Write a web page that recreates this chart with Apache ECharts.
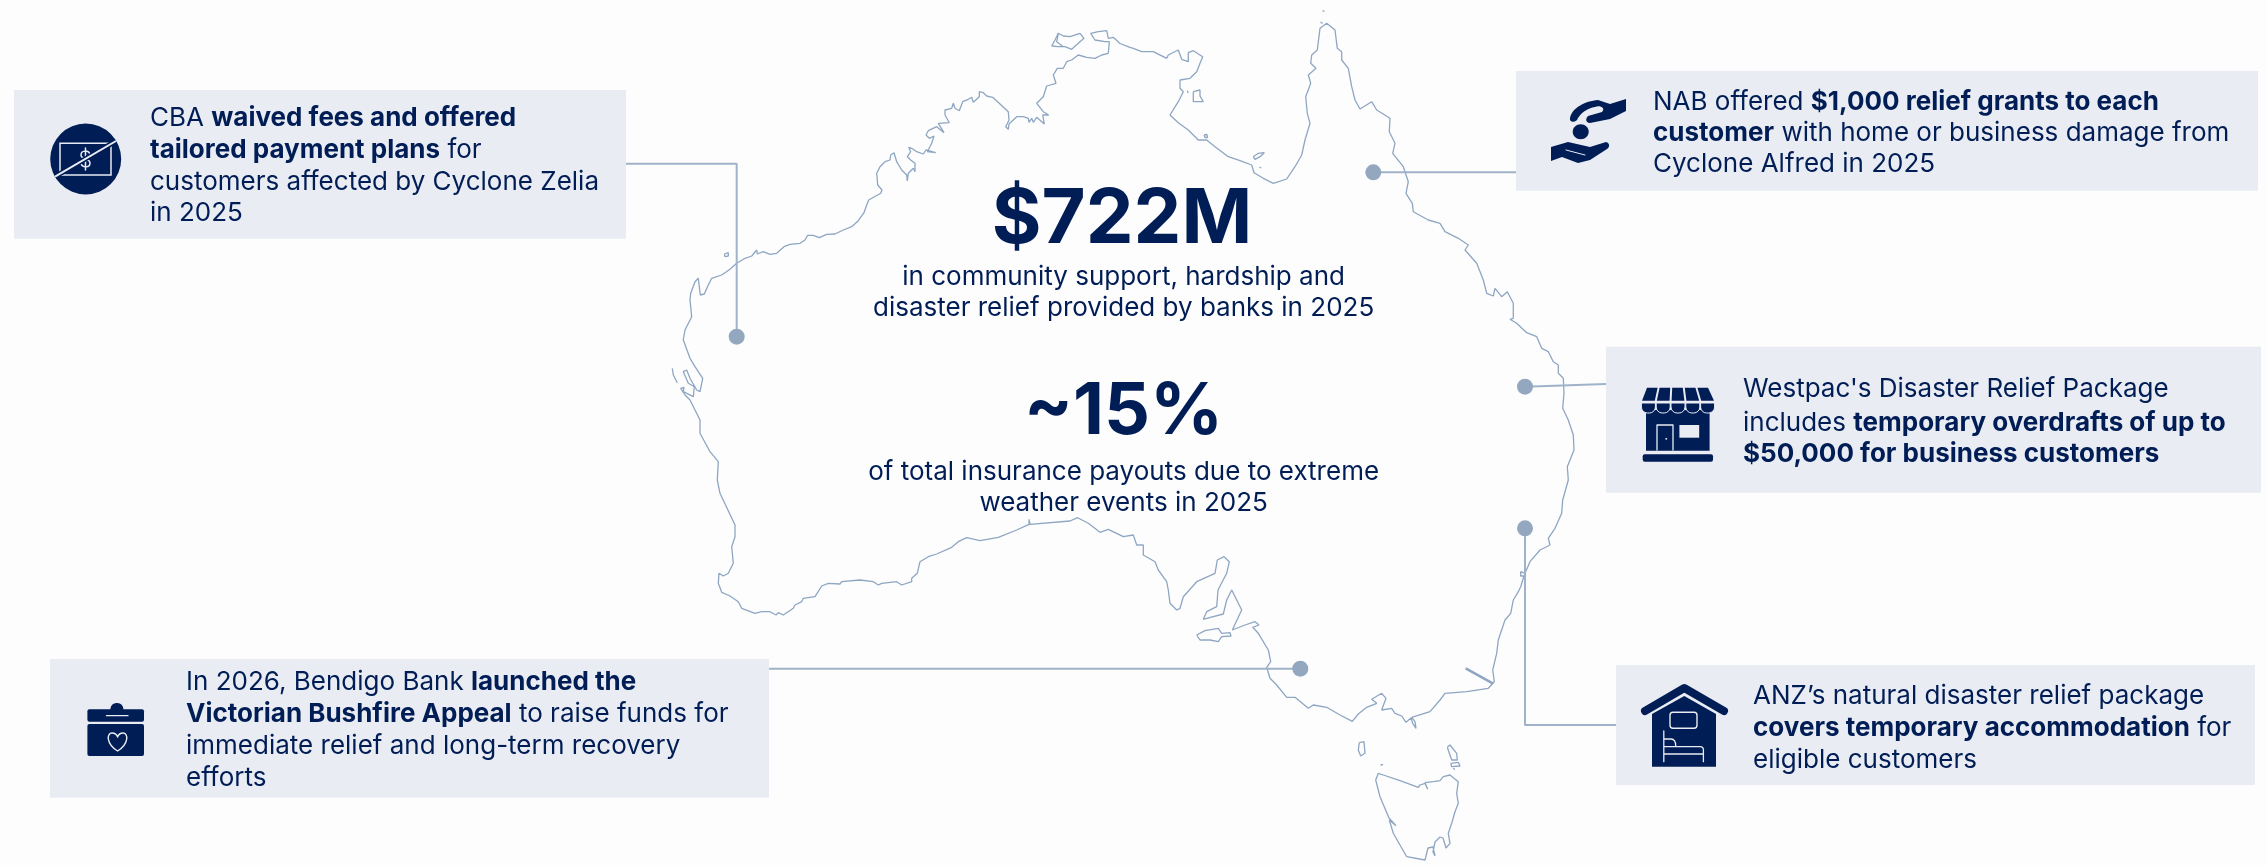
<!DOCTYPE html>
<html>
<head>
<meta charset="utf-8">
<style>
html, body { margin: 0; padding: 0; background: #fdfdfe; }
#main { width: 2267px; height: 865px; }
</style>
<script src="https://cdn.jsdelivr.net/npm/echarts@6/dist/echarts.min.js"></script>
</head>
<body>
<div id="main"></div>
<script>
// coastline (x, y on the 2267 x 865 plane)
var coastMainland = [[690,300],[690.7,293.3],[695,281.7],[698.3,278.3],[699.3,286.7],[700.3,295],[704.3,294],[708.3,285],[711.7,278.3],[721.7,275],[730,269.3],[736.7,263.3],[745,258.3],[751.7,256],[756.7,250],[757.3,254],[763.3,251.7],[770,254.3],[776.7,253.3],[784,246.7],[790,244.3],[800,243.3],[805,240],[807.7,235.3],[813.3,235.3],[819.3,237.7],[826.7,234.3],[835,234],[843.3,230],[851.7,226.7],[858.3,220.7],[864,212.7],[866.7,205],[868.7,200],[880.7,193.3],[882,190],[877.7,185],[876.7,173.3],[880,166.7],[885,161.7],[890,160],[890.7,155],[894,152.7],[896.7,161.7],[901.7,170],[906.7,175],[907.3,181],[908.3,173.3],[913.3,168.3],[915,171.7],[915,163.3],[910.7,160],[907.3,156.7],[910.7,151.7],[908.7,147.3],[911.7,148.3],[916.7,151.7],[923.3,154],[926,150],[935.7,152.7],[927.3,151.7],[931.7,143.3],[934,136],[929.3,138.3],[926,135],[928.3,130.7],[936.7,126.7],[944,132.7],[938.3,123.3],[949.3,122.7],[945,115],[945,110],[951.7,108.3],[953.3,103.3],[955,108.3],[959.3,110.7],[962.7,101.7],[968.3,99.3],[971.7,97.3],[973.3,102.3],[979.3,96.7],[979.3,91.7],[983.3,92.7],[986.7,96],[992.7,97.3],[1000,104],[1008.3,111.7],[1009,120],[1005.7,126.7],[1008.3,129.3],[1009,124],[1016.7,116.7],[1023.3,116.7],[1028.3,118.3],[1029,122.3],[1031.7,118.3],[1033.3,122.3],[1036.7,117.3],[1044.3,124],[1042.7,115],[1048.7,115],[1043.3,111.7],[1036.7,103.3],[1043.3,96.7],[1046.7,86],[1056,83.3],[1053.3,75],[1057.3,68.3],[1063.3,68.3],[1066.7,61.7],[1071.7,60],[1078.3,55],[1086.7,57.3],[1095,58.3],[1101.7,55],[1108.3,53.3],[1109.3,41.7],[1105,41.7],[1095,40],[1090.7,33.3],[1098.3,31.7],[1106.7,30.7],[1108.3,38.3],[1113.3,37.3],[1120,43.5],[1130,47.3],[1133.3,48.3],[1141.7,51.7],[1153.3,51.7],[1166.7,58.3],[1168.3,55],[1178.3,50],[1181.7,59.3],[1188.3,61.7],[1188.3,52.7],[1193.3,50.7],[1202.7,56.7],[1200,63.3],[1196.7,71.7],[1190,78.3],[1180,80],[1180,88.3],[1183.3,91.7],[1178.3,101.7],[1170,115],[1178.3,122.7],[1188.3,130],[1198.3,140],[1206.7,140],[1215,146.7],[1228.3,156.7],[1240,160.7],[1251.7,165],[1254,172.7],[1263.3,178.3],[1273.3,183.3],[1286.7,179],[1295,166.7],[1301.7,155],[1305,140],[1310,123.3],[1307.3,113.3],[1305.7,96.7],[1310.7,83.3],[1308.3,75],[1316,68.3],[1310.7,63.3],[1311.7,55],[1317.3,50],[1320,28.3],[1326.7,23.3],[1335,30],[1337.3,48.3],[1341.7,51.7],[1341.7,60],[1348.3,68.3],[1351.7,86.7],[1355,100],[1360,109],[1371.7,101.7],[1376.7,110],[1390,118.3],[1389.3,131.7],[1395,143.3],[1392.7,153.3],[1403.3,166.7],[1408.3,181.7],[1406,193.3],[1412.3,203.3],[1413.3,211.7],[1428.3,220],[1440,223.3],[1445,231.7],[1458.3,238.3],[1468.3,245],[1465,250],[1476.7,263.3],[1483.3,280],[1486.7,293.3],[1493.3,296],[1495,288.3],[1501.7,296.7],[1507.3,291.7],[1513.3,303.3],[1513.3,318.3],[1510,319.3],[1516.7,323.3],[1526.7,332.7],[1536.7,336.7],[1541.7,348.3],[1548.3,351.7],[1553.3,361.7],[1558.3,365],[1558.3,373.3],[1563.3,378.3],[1564,393.3],[1562.7,408.3],[1568.3,420],[1573.3,435],[1574,450],[1567.3,466.7],[1568.3,480],[1562.7,500],[1561.7,513.3],[1555,528.3],[1548.3,538.3],[1550,545],[1540,550],[1530,561.7],[1525,573.3],[1520.7,571.7],[1520.7,576],[1524,576],[1520.7,586.7],[1518.3,591.7],[1513.3,600],[1510.7,613.3],[1505,620],[1498.3,640],[1496.7,653.3],[1492.7,670],[1494.3,681.7],[1488.3,688.3],[1466.7,691.7],[1445,693.3],[1440,700],[1430,711.7],[1411.7,717.3],[1415,721.7],[1416,728.3],[1412.7,723.3],[1411,718],[1406,722.3],[1401.7,716],[1395,713.3],[1391.7,708.3],[1381.7,710],[1380,708.3],[1386,698.3],[1381.7,693.3],[1371.7,699.3],[1376.7,703.3],[1366.7,707.3],[1358.3,714],[1352.3,721.3],[1340,715],[1326.7,707.3],[1313.3,705],[1308.3,708.3],[1295,697.3],[1286.7,697.3],[1276.7,685],[1270,678.3],[1266.7,667.3],[1270.7,661.7],[1268.3,650],[1258.3,633.3],[1252.7,627.3],[1259,625],[1255,621.7],[1245,625],[1232.3,630],[1241.7,610],[1231.7,590],[1226.7,600],[1223.3,614],[1206.7,618.3],[1203.3,619.3],[1206.7,611.7],[1216.7,606.7],[1218,590],[1226.7,573.3],[1229.3,561.7],[1224,556.7],[1217.3,560],[1215,573.3],[1196.7,581.7],[1183.3,596.7],[1180,608.3],[1176.7,610],[1170,603.3],[1168.3,590],[1166.7,581.7],[1158.3,570],[1155,561.7],[1143.3,555],[1143.3,545],[1136.7,545],[1133.3,535],[1123.3,536.7],[1108.3,529.3],[1100,532.3],[1088.3,523.3],[1077.7,517.7],[1070,521],[1030,524.3],[1029,519.3],[1029,524.3],[1016.7,530],[998.3,537.3],[980,540.7],[966.7,537.7],[958.3,541.7],[951.7,547.3],[936.7,554],[928.3,556.7],[920,561.7],[917.3,573.3],[911.7,578.3],[911.7,581.7],[901.7,585],[896.7,581.7],[881.7,583.3],[878.3,585],[873.3,581.7],[860,580],[841.7,581.7],[840,584],[828.3,583.3],[821.7,586],[815,596.7],[803.3,598.3],[801.7,601.7],[795,605],[793.3,608.3],[783.3,615],[778.3,612.7],[776,615],[770,611.7],[761.7,611.7],[755,613.3],[741.7,608.3],[738.3,601.7],[730,596],[721.7,592.3],[720,593.3],[718.3,583.3],[719,573.3],[723.3,576],[728.3,573.3],[733.3,563.3],[731.7,546.7],[735,536.7],[735,525],[720,493.3],[717.3,480],[718.3,461.7],[710,451.7],[700,433.3],[700,420],[690,400],[685,395],[680.7,388.3],[684,387.3],[683.3,391.7],[693.3,396.7],[694.3,386.7],[688.3,383.3],[683.3,371.7],[686.7,370],[690,378.3],[696.7,390],[700,391.7],[702.7,378.3],[695,366.7],[690,358.3],[683.3,340],[685,330],[691.7,316.7],[690,300]];
var coastTasmania = [[1378.3,773.3],[1383.3,775],[1400,780.7],[1418.3,787.3],[1420,785],[1425,783.3],[1427.7,789.3],[1425,782.7],[1433.3,781.7],[1440,780.7],[1443.3,776.7],[1450,775],[1458.3,781.7],[1456.7,793.3],[1458.3,803.3],[1455,811.7],[1451.7,823.3],[1448.3,833.3],[1450,843.3],[1446,848],[1443,838],[1440,837],[1435,842],[1433,852],[1435,856],[1433,847],[1428,848],[1425,860],[1406.7,856.7],[1400,845],[1393.3,833.3],[1389.3,820],[1396,825.7],[1389,818],[1380,796.7],[1375.7,780],[1378.3,773.3]];
var coastTiwi = [[1051.7,46],[1055,40],[1058.3,33.3],[1063.3,36],[1070,36.7],[1080,33.3],[1084,38.3],[1078.3,43.3],[1071.7,49.3],[1065,46.7],[1058.3,46.7],[1051.7,46]];
var coastBathurst = [[1058.3,33.3],[1056.7,41.7],[1063.3,46.7]];
var coastBarrow = [[724.3,254],[728.3,252.7],[728.3,256],[725,256.7],[724.3,254]];
var coastHartog = [[672.3,368.3],[673.3,375],[677.3,382.7]];
var coastGroote = [[1193.3,91.7],[1200,90],[1200,96],[1203.3,101.7],[1193.3,101.7],[1193.3,91.7]];
var coastBickerton = [[1187.3,90.7],[1188.3,93],[1187.3,90.7]];
var coastVanderlin = [[1204,135],[1207,134.5],[1207.5,137.5],[1205,137.5],[1204,135]];
var coastMornington = [[1253.3,156.7],[1258.3,153.3],[1264.3,152.7],[1260,156.7],[1255,159.3],[1253.3,156.7]];
var coastBentinck = [[1259.5,167],[1261,166.5],[1261,168],[1259.5,167]];
var coastThursday = [[1322.5,10.7],[1324,10],[1324.5,11.5],[1322.5,10.7]];
var coastPrince = [[1320.5,22],[1322.5,21],[1322.5,23.5],[1320.5,22]];
var coastKangaroo = [[1196.7,635],[1205,630.7],[1218.3,628.3],[1221.7,633.3],[1230,632.7],[1231,636],[1221.7,636.7],[1218.3,641.7],[1210,640],[1200,640],[1196.7,635]];
var coastKing = [[1359.3,742.7],[1364,741.7],[1365,753.3],[1360.7,756],[1358.3,750],[1359.3,742.7]];
var coastFlinders = [[1447.3,747.3],[1450,745],[1456.7,753.3],[1457.3,760],[1451.7,760],[1447.3,747.3]];
var coastBarren = [[1450.7,763.3],[1458.3,762.3],[1460,766],[1451.7,766.7],[1450.7,763.3]];
var coastClarke = [[1453,768.3],[1455,768],[1455,769.5],[1453,768.3]];
var coastHunter = [[1380.5,765],[1383,764.5],[1383,766],[1380.5,765]];
var coastJervis = [[1465.7,668.3],[1492.7,683.3]];

var coastAll = [coastMainland, coastTasmania, coastTiwi, coastBathurst, coastBarrow, coastHartog, coastGroote, coastBickerton, coastVanderlin, coastMornington, coastBentinck, coastThursday, coastPrince, coastKangaroo, coastKing, coastFlinders, coastBarren, coastClarke, coastHunter];

// callout wording
var cbaLines = ['{r|CBA }{b|waived fees and offered}', '{b|tailored payment plans}{r| for}', '{r|customers affected by Cyclone Zelia}', '{r|in 2025}'];
var bendigoLines = ['{r|In 2026, Bendigo Bank }{b|launched the}', '{b|Victorian Bushfire Appeal}{r| to raise funds for}', '{r|immediate relief and long-term recovery}', '{r|efforts}'];
var nabLines = ['{r|NAB offered }{b|$1,000 relief grants to each}', '{b|customer}{r| with home or business damage from}', '{r|Cyclone Alfred in 2025}'];
var westpacLines = ["{r|Westpac's Disaster Relief Package}", '{r|includes }{b|temporary overdrafts of up to}', '{b|$50,000 for business customers}'];
var anzLines = ['{r|ANZ\u2019s natural disaster relief package}', '{b|covers temporary accommodation}{r| for}', '{r|eligible customers}'];

// headline figures
var headlineValues = ['$722M', '~15%'];
var headlineNotes = [['in community support, hardship and', 'disaster relief provided by banks in 2025'], ['of total insurance payouts due to extreme', 'weather events in 2025']];

// where each callout points at
var markerPoints = [[736.7,336.7],[1373.3,172.3],[1525,386.7],[1525,528.3],[1300.3,668.7]];
var leaderCba = [[626,163.7],[736.7,163.7],[736.7,336.7]];
var leaderNab = [[1373.3,172.3],[1516,172.3]];
var leaderWestpac = [[1525,386.7],[1606,384]];
var leaderAnz = [[1525,528.3],[1525,725],[1616,725]];
var leaderBendigo = [[769,668.7],[1300.3,668.7]];

var NAVY = '#001d56', PANEL = '#e9ecf2', COAST = '#8ea6c2', LEADER = '#9fb2ca', DOT = '#93a8bf';
var FONT = 'Inter';
var BODY_SIZE = 26;

var panels = [[14,90,626,238.7],[50,659,769,797.7],[1516,71,2258,190.7],[1606,346.7,2261,492.7],[1616,665,2255,785]];
var textBlocks = [
    {x: 150, y: [117.7,150.3,181.7,212.7], lines: cbaLines},
    {x: 186, y: [681.7,714.3,746,777.7], lines: bendigoLines},
    {x: 1653, y: [101.7,132.7,164.3], lines: nabLines},
    {x: 1743, y: [389.3,422.7,454.3], lines: westpacLines},
    {x: 1753, y: [696,727.7,760.3], lines: anzLines}
];
var calloutRows = [];
textBlocks.forEach(function (b) {
    b.lines.forEach(function (t, i) { calloutRows.push([b.x, b.y[i], t]); });
});
var centreRows = [
    [1122, 220, headlineValues[0], 76],
    [1123.6, 276.7, headlineNotes[0][0], 0],
    [1123.6, 308.3, headlineNotes[0][1], 0],
    [1123.6, 412, headlineValues[1], 72],
    [1123.6, 471.7, headlineNotes[1][0], 0],
    [1123.6, 503.3, headlineNotes[1][1], 0]
];

var series = [];
coastAll.forEach(function (c) {
    series.push({type: 'line', data: c, showSymbol: false, silent: true, z: 2, animation: false,
        lineStyle: {color: COAST, width: 1.3}});
});
series.push({type: 'line', data: coastJervis, showSymbol: false, silent: true, z: 2, animation: false,
    lineStyle: {color: COAST, width: 2.5}});
[leaderCba, leaderNab, leaderWestpac, leaderAnz, leaderBendigo].forEach(function (l) {
    series.push({type: 'line', data: l, showSymbol: false, silent: true, z: 3, animation: false,
        lineStyle: {color: LEADER, width: 2}});
});
series.push({type: 'scatter', data: markerPoints, symbolSize: 16, silent: true, z: 4, animation: false,
    itemStyle: {color: DOT, opacity: 1}});
series.push({
    type: 'custom', data: panels, silent: true, z: 1, animation: false, clip: false,
    renderItem: function (p, api) {
        var a = api.coord([api.value(0), api.value(1)]);
        var b = api.coord([api.value(2), api.value(3)]);
        return {type: 'rect', shape: {x: a[0], y: a[1], width: b[0] - a[0], height: b[1] - a[1]}, style: {fill: PANEL}};
    }
});
series.push({
    type: 'custom', data: calloutRows, silent: true, z: 6, animation: false, clip: false,
    encode: {x: 0, y: 1},
    renderItem: function (p, api) {
        var row = calloutRows[p.dataIndex];
        var a = api.coord([row[0], row[1]]);
        return {type: 'text', style: {
            x: a[0], y: a[1], text: row[2], verticalAlign: 'middle', align: 'left',
            rich: {
                r: {fontFamily: FONT, fontSize: BODY_SIZE, fontWeight: 400, fill: NAVY},
                b: {fontFamily: FONT, fontSize: BODY_SIZE, fontWeight: 700, fill: NAVY}
            }
        }};
    }
});
series.push({
    type: 'custom', data: centreRows, silent: true, z: 6, animation: false, clip: false,
    encode: {x: 0, y: 1},
    renderItem: function (p, api) {
        var row = centreRows[p.dataIndex];
        var a = api.coord([row[0], row[1]]);
        return {type: 'text', style: {
            x: a[0], y: a[1], text: row[2], align: 'center', verticalAlign: 'middle',
            fontFamily: FONT, fontSize: row[3] || BODY_SIZE, fontWeight: row[3] ? 700 : 400, fill: NAVY
        }};
    }
});

// icons
var icons = [];
var pathCount = 0;
function pathEl(d, style, z) {
    var name = 'iconPath' + (pathCount++);
    echarts.graphic.registerShape(name, echarts.graphic.extendPath(d, {}));
    icons.push({type: name, style: style, z: z || 11});
}
function rect(x, y, w, h, fill, r) {
    icons.push({type: 'rect', shape: {x: x, y: y, width: w, height: h, r: r || 0}, style: {fill: fill}, z: 10});
}
function stroke(d, color, width) {
    pathEl(d, {stroke: color, lineWidth: width, fill: 'none', lineCap: 'round', lineJoin: 'round'});
}
// no-fee
icons.push({type: 'circle', shape: {cx: 85.7, cy: 159, r: 35.5}, style: {fill: NAVY}, z: 10});
icons.push({type: 'rect', shape: {x: 60, y: 143.3, width: 51, height: 31.7}, style: {fill: 'none', stroke: PANEL, lineWidth: 1.5}, z: 11});
stroke('M90,154 C88,150 81,150 81,155 C81,160 90,158 90,163 C90,168 83,168 81,164 M85.5,148 L85.5,170', PANEL, 1.5);
icons.push({type: 'line', shape: {x1: 55, y1: 176.7, x2: 116, y2: 141}, style: {stroke: NAVY, lineWidth: 5}, z: 12});
icons.push({type: 'line', shape: {x1: 55, y1: 176.7, x2: 116, y2: 141}, style: {stroke: PANEL, lineWidth: 2}, z: 13});
// hands
pathEl('M1570,118 C1572,108 1585,101 1598,100 L1610,104 L1626,99 L1626,111 L1610,119 L1590,123 C1586,123 1585,119 1588,116 L1602,112 C1606,108 1600,105 1595,107 C1588,108 1580,113 1577,120 C1574,123 1569,122 1570,118 Z', {fill: NAVY}, 10);
icons.push({type: 'ellipse', shape: {cx: 1580.7, cy: 131.7, rx: 8, ry: 7.5}, style: {fill: NAVY}, z: 10});
pathEl('M1551,147 L1568,142 L1590,147 L1606,142 C1610,143 1610,147 1607,149 L1590,160 L1578,163 L1562,157 L1551,161 Z', {fill: NAVY}, 10);
stroke('M1566,150 L1585,155', PANEL, 1);
// shop
rect(1646, 410, 63.6, 40.7, NAVY);
var i, sx;
for (i = 0; i < 5; i++) {
    sx = 1641 + i * 14.8;
    rect(sx + 0.4, 403, 14, 10, NAVY, [0, 0, 6, 6]);
    icons[icons.length - 1].style.stroke = PANEL;
    icons[icons.length - 1].style.lineWidth = 1;
    icons[icons.length - 1].z = 12;
    var t0 = 1646 + i * 12.6, b0 = 1641 + i * 14.8;
    icons.push({type: 'polygon', shape: {points: [[t0 + 1, 387.7], [t0 + 11.6, 387.7], [b0 + 13.8, 400.7], [b0 + 1, 400.7]]}, style: {fill: NAVY}, z: 10});
}
icons.push({type: 'rect', shape: {x: 1679.4, y: 425, width: 19.8, height: 12.7}, style: {fill: PANEL}, z: 11});
stroke('M1657,450 L1657,425 L1673,425 L1673,450', PANEL, 1.3);
icons.push({type: 'rect', shape: {x: 1665.5, y: 438, width: 1.6, height: 1.6}, style: {fill: PANEL}, z: 11});
rect(1642.7, 454.3, 70.3, 7.4, NAVY, 2);
// donation box
rect(87.4, 709.3, 56.6, 12.4, NAVY, 2);
rect(110.4, 703, 13, 13, NAVY, [6, 6, 0, 0]);
stroke('M106.5,715.7 L128,715.7', PANEL, 1.3);
rect(87.4, 724, 56.6, 32, NAVY, 2);
stroke('M117.6,751 C106,744 106.5,733 112,733 C115,733 117,735 117.6,737 C118.3,735 120,733 123,733 C128.5,733 129,744 117.6,751 Z', PANEL, 1.4);
// house
stroke('M1645,711 L1684.3,688 L1724,711', NAVY, 8);
icons.push({type: 'polygon', shape: {points: [[1652,766.7],[1652,714],[1684.3,696],[1716,714],[1716,766.7]]}, style: {fill: NAVY}, z: 10});
icons.push({type: 'rect', shape: {x: 1670, y: 712.3, width: 27, height: 16, r: 3}, style: {fill: 'none', stroke: PANEL, lineWidth: 1.4}, z: 11});
stroke('M1663.8,731 L1663.8,761.7 M1663.8,746.7 L1700,746.7 C1702,746.7 1703.4,748 1703.4,750 L1703.4,761.7 M1663.8,754 L1703.4,754 M1663.8,739 L1671,739 C1674,739 1675.7,741 1675.7,746', PANEL, 1.3);

var chart = echarts.init(document.getElementById('main'));
chart.setOption({
    backgroundColor: '#fdfdfe',
    animation: false,
    grid: {left: 0, right: 0, top: 0, bottom: 0},
    xAxis: {type: 'value', min: 0, max: 2267, show: false},
    yAxis: {type: 'value', min: 0, max: 865, inverse: true, show: false},
    graphic: {elements: icons},
    series: series
});
</script>
</body>
</html>
